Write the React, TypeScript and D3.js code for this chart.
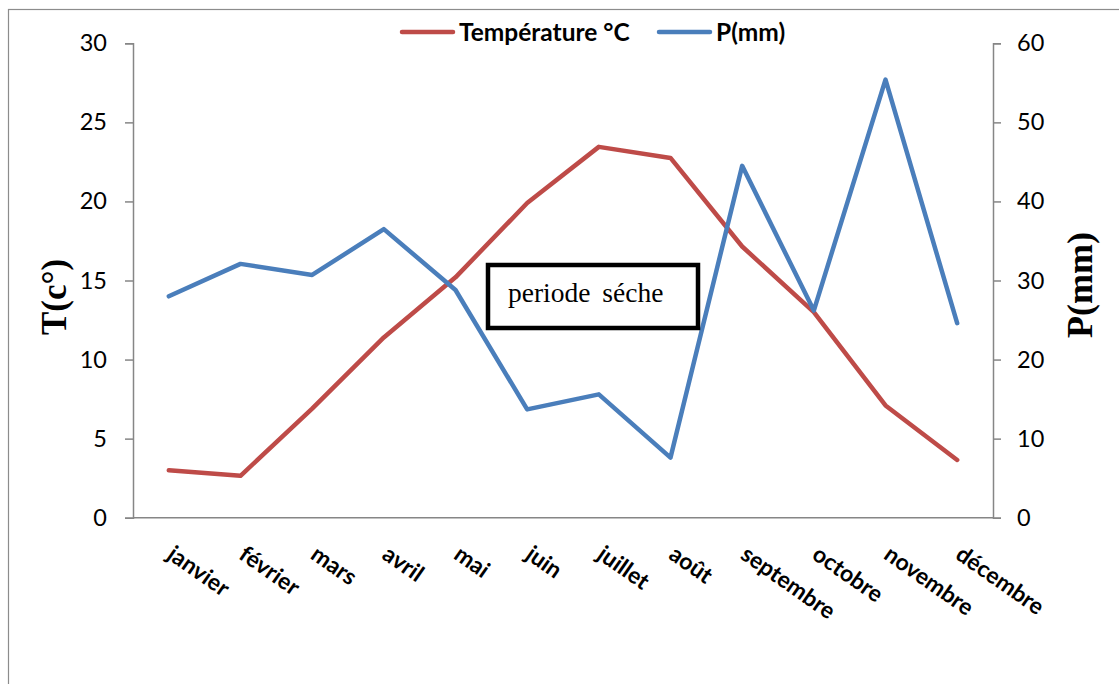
import { useEffect, useRef } from "react";
import * as d3 from "d3";

const months = [
  "janvier", "février", "mars", "avril", "mai", "juin",
  "juillet", "août", "septembre", "octobre", "novembre", "décembre",
];
const temperature = [3.0, 2.65, 6.9, 11.4, 15.2, 19.9, 23.45, 22.75, 17.15, 13.0, 7.1, 3.65];
const precipitation = [28.0, 32.1, 30.7, 36.5, 28.8, 13.7, 15.6, 7.6, 44.5, 26.2, 55.4, 24.6];
const tempTicks = [0, 5, 10, 15, 20, 25, 30];
const precTicks = [0, 10, 20, 30, 40, 50, 60];

const W = 1119;
const H = 684;
const RED = "#BE4B48";
const BLUE = "#4A7EBB";
const AXIS = "#868686";
const SANS = "Lato, 'Open Sans', sans-serif";
const SERIF = "'Liberation Serif', 'DejaVu Serif', serif";

export default function App() {
  const ref = useRef<SVGSVGElement | null>(null);

  useEffect(() => {
    if (!ref.current) return;
    const svg = d3.select(ref.current);
    svg.selectAll("*").remove();

    const left = 133, right = 993, top = 43.3, bottom = 517.7;

    const x = d3.scaleBand<string>().domain(months).range([left, right]);
    const cx = (m: string) => (x(m) ?? 0) + x.bandwidth() / 2;
    const yT = d3.scaleLinear().domain([0, 30]).range([bottom, top]);
    const yP = d3.scaleLinear().domain([0, 60]).range([bottom, top]);

    svg.append("rect").attr("width", W).attr("height", H).attr("fill", "#fff");
    // outer chart frame (runs off the right / bottom edges)
    svg.append("rect")
      .attr("x", 8.5).attr("y", 9.5).attr("width", 1300).attr("height", 900)
      .attr("fill", "none").attr("stroke", "#8c8c8c").attr("stroke-width", 1.2);

    // left axis
    const gl = svg.append("g").attr("transform", `translate(${left},0)`);
    gl.call(d3.axisLeft(yT).tickValues(tempTicks).tickSize(8).tickPadding(18).tickFormat(d3.format("d")));
    // right axis
    const gr = svg.append("g").attr("transform", `translate(${right},0)`);
    gr.call(d3.axisRight(yP).tickValues(precTicks).tickSize(8).tickPadding(16).tickFormat(d3.format("d")));
    [gl, gr].forEach((g) => {
      g.select(".domain").attr("stroke", AXIS).attr("stroke-width", 1.5);
      g.selectAll(".tick line").attr("stroke", AXIS).attr("stroke-width", 1.5);
      g.selectAll(".tick text")
        .attr("fill", "#000").attr("font-family", SANS).attr("font-size", 23.5);
    });

    // bottom axis
    svg.append("line")
      .attr("x1", left).attr("x2", right).attr("y1", bottom).attr("y2", bottom)
      .attr("stroke", AXIS).attr("stroke-width", 1.5);

    // month labels
    svg.append("g").selectAll("text").data(months).enter().append("text")
      .attr("transform", (d) => `translate(${cx(d) - 3},${bottom + 40}) rotate(35)`)
      .attr("font-family", SANS).attr("font-weight", "bold").attr("font-size", 23)
      .attr("fill", "#000")
      .text((d) => d);

    // lines
    const lineT = d3.line<number>().x((_, i) => cx(months[i])).y((d) => yT(d));
    const lineP = d3.line<number>().x((_, i) => cx(months[i])).y((d) => yP(d));
    svg.append("path").attr("d", lineT(temperature) ?? "")
      .attr("fill", "none").attr("stroke", RED).attr("stroke-width", 4.5)
      .attr("stroke-linejoin", "round").attr("stroke-linecap", "round");
    svg.append("path").attr("d", lineP(precipitation) ?? "")
      .attr("fill", "none").attr("stroke", BLUE).attr("stroke-width", 4.5)
      .attr("stroke-linejoin", "round").attr("stroke-linecap", "round");

    // axis titles
    svg.append("text")
      .attr("transform", `translate(66,297) rotate(-90)`)
      .attr("text-anchor", "middle")
      .attr("font-family", SERIF).attr("font-weight", "bold").attr("font-size", 35)
      .text("T(c°)");
    svg.append("text")
      .attr("transform", `translate(1092,285) rotate(-90)`)
      .attr("text-anchor", "middle")
      .attr("font-family", SERIF).attr("font-weight", "bold").attr("font-size", 36)
      .text("P(mm)");

    // legend
    const legend = [
      { label: "Température °C", color: RED, x0: 400 },
      { label: "P(mm)", color: BLUE, x0: 657 },
    ];
    legend.forEach((l) => {
      svg.append("line")
        .attr("x1", l.x0 + 2).attr("x2", l.x0 + 53).attr("y1", 32).attr("y2", 32)
        .attr("stroke", l.color).attr("stroke-width", 4.5).attr("stroke-linecap", "round");
      svg.append("text")
        .attr("x", l.x0 + 59).attr("y", 40.5)
        .attr("font-family", SANS).attr("font-weight", "bold").attr("font-size", 24.5)
        .text(l.label);
    });

    // annotation box
    svg.append("rect")
      .attr("x", 488).attr("y", 265).attr("width", 210).attr("height", 63)
      .attr("fill", "#fff").attr("stroke", "#000").attr("stroke-width", 4.5);
    svg.append("text")
      .attr("x", 508).attr("y", 302)
      .attr("font-family", SERIF).attr("font-size", 27.5).attr("word-spacing", 5)
      .text("periode séche");
  }, []);

  return (
    <div style={{ position: "absolute", left: 0, top: 0 }}>
      <svg ref={ref} width={W} height={H} style={{ display: "block" }} />
    </div>
  );
}
